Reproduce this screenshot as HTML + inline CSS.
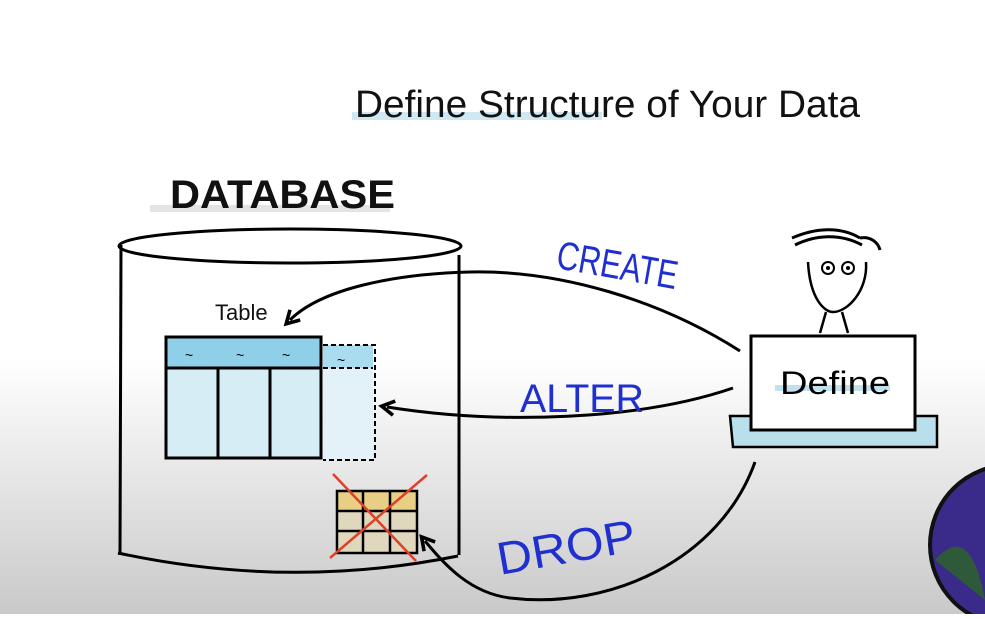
<!DOCTYPE html>
<html><head><meta charset="utf-8"><style>
html,body{margin:0;padding:0}
body{width:985px;height:614px;overflow:hidden;background:linear-gradient(#fff 0px,#fff 360px,#c9c9c9 614px);font-family:"Liberation Sans",sans-serif}
</style></head><body>
<svg width="985" height="614" viewBox="0 0 985 614" xmlns="http://www.w3.org/2000/svg">
<defs><marker id="ah" viewBox="0 0 10 10" refX="5" refY="5" markerWidth="6" markerHeight="6" orient="auto-start-reverse"><path d="M1,1 L8,5 L1,9" fill="none" stroke="#000" stroke-width="2"/></marker></defs>
<!-- title -->
<rect x="352" y="112" width="250" height="8" fill="#cfe8f3"/>
<text x="355" y="117" font-family="Liberation Sans" font-size="38" fill="#111" textLength="505" lengthAdjust="spacingAndGlyphs">Define Structure of Your Data</text>
<rect x="150" y="205" width="240" height="7" fill="#e4e4e4"/>
<text x="170" y="208" font-family="Liberation Sans" font-weight="bold" font-size="40" fill="#111" textLength="225" lengthAdjust="spacingAndGlyphs">DATABASE</text>
<!-- cylinder -->
<ellipse cx="290" cy="246" rx="171" ry="17" fill="none" stroke="#000" stroke-width="3"/>
<path d="M121 245 L120 555 M459 255 L459 555 M118 553 Q290 590 458 556" fill="none" stroke="#000" stroke-width="3"/>
<!-- table -->
<text x="215" y="320" font-size="22" fill="#111">Table</text>
<rect x="166" y="368" width="155" height="90" fill="#d6edf6"/>
<rect x="166" y="337" width="155" height="31" fill="#8fd0e8"/>
<rect x="323" y="368" width="50" height="92" fill="#e3f2f8"/>
<rect x="323" y="345" width="50" height="23" fill="#a9dcee"/>
<path d="M166 337 H321 V458 H166 Z M166 368 H321 M218 368 V458 M270 368 V458" fill="none" stroke="#000" stroke-width="3"/>
<path d="M323 345 H375 V460 H323 M323 368 H373" fill="none" stroke="#000" stroke-width="2" stroke-dasharray="5 3"/>
<g font-size="14" fill="#000"><text x="185" y="360">~</text><text x="236" y="360">~</text><text x="282" y="360">~</text><text x="337" y="365">~</text></g>
<!-- dropped table -->
<rect x="337" y="491" width="80" height="20" fill="#e8cf85"/>
<rect x="337" y="511" width="80" height="42" fill="#e0d8bd"/>
<path d="M337 491 H417 V553 H337 Z M337 511 H417 M337 531 H417 M363 491 V553 M390 491 V553" fill="none" stroke="#000" stroke-width="2.5"/>
<path d="M333 474 L416 561 M427 475 L330 558" stroke="#e0402a" stroke-width="2.5"/>
<!-- arrows -->
<path d="M740 351 C660 300 560 270 470 272 C390 274 320 290 290 320" fill="none" stroke="#000" stroke-width="3" marker-end="url(#ah)"/>
<path d="M733 388 C640 420 500 425 387 407" fill="none" stroke="#000" stroke-width="3" marker-end="url(#ah)"/>
<path d="M755 462 C720 560 610 610 510 598 C470 593 445 565 425 541" fill="none" stroke="#000" stroke-width="3" marker-end="url(#ah)"/>
<!-- labels -->
<g fill="#1f2fd0" font-family="Liberation Sans" font-size="40">
<text x="555" y="268" transform="rotate(10 555 268)" textLength="122" lengthAdjust="spacingAndGlyphs">CREATE</text>
<text x="520" y="412" textLength="124" lengthAdjust="spacingAndGlyphs">ALTER</text>
<text x="500" y="575" font-size="46" transform="rotate(-10 500 575)" textLength="140" lengthAdjust="spacingAndGlyphs">DROP</text>
</g>
<!-- person -->
<path d="M808 262 C810 300 825 312 833 312 C848 312 868 290 866 262" fill="none" stroke="#000" stroke-width="2.5"/>
<path d="M792 238 C815 228 840 226 860 238 M795 245 C815 235 840 233 862 245 M860 238 C870 236 878 242 880 250" fill="none" stroke="#000" stroke-width="3"/>
<circle cx="828" cy="268" r="6" fill="none" stroke="#000" stroke-width="2"/><circle cx="848" cy="268" r="6" fill="none" stroke="#000" stroke-width="2"/>
<circle cx="828" cy="268" r="2"/><circle cx="848" cy="268" r="2"/>
<path d="M826 312 L820 333 M842 312 L848 333" stroke="#000" stroke-width="2.5"/>
<path d="M730 416 H937 V447 H733 Z" fill="#b9dfec" stroke="#000" stroke-width="2.5"/>
<rect x="751" y="336" width="164" height="94" fill="#fff" stroke="#000" stroke-width="3"/>
<rect x="775" y="385" width="115" height="6" fill="#bfe2ee"/>
<text x="780" y="394" font-size="32" fill="#000" textLength="110" lengthAdjust="spacingAndGlyphs">Define</text>
<!-- avatar -->
<circle cx="1010" cy="545" r="80" fill="#3a2a8a" stroke="#111" stroke-width="4"/>
<path d="M935 560 Q970 520 985 600 Z" fill="#2f5a3a"/>
</svg>
</body></html>
